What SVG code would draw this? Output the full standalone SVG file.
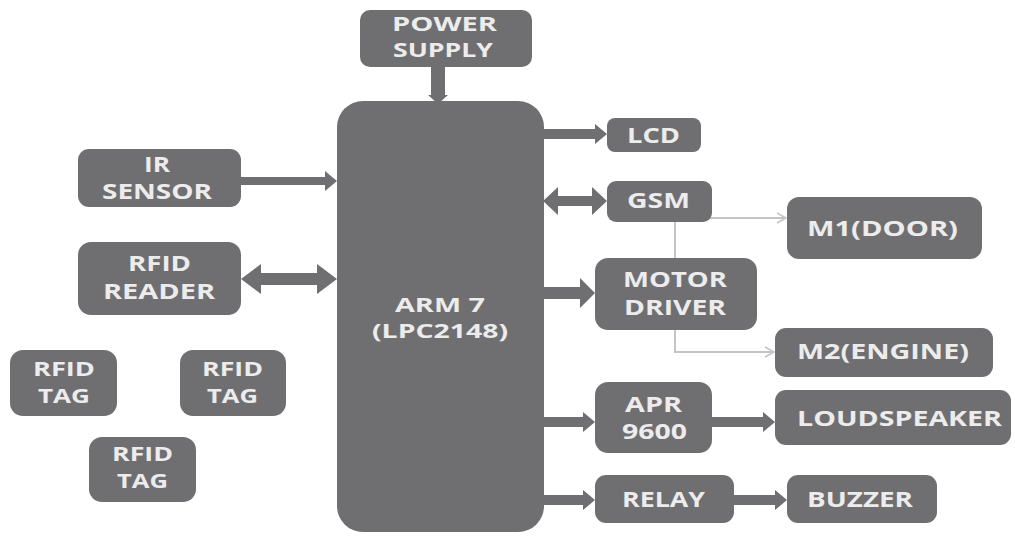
<svg xmlns="http://www.w3.org/2000/svg" width="1015" height="536" viewBox="0 0 1015 536">
<defs>
<style>
.box{fill:#6f6f72}
.arr{fill:#6f6f72}
.thin{fill:none;stroke:#c4c4c4;stroke-width:2}
.t{font-family:"Open Sans","Liberation Sans",sans-serif;font-weight:bold;fill:#ececec;font-size:21px}
.s{font-size:19px}
.c{font-size:19px}
</style>
<marker id="open" markerWidth="12" markerHeight="12" refX="10" refY="6" orient="auto" markerUnits="userSpaceOnUse">
<path d="M1,1 L10,6 L1,11" fill="none" stroke="#c4c4c4" stroke-width="1.5"/>
</marker>
</defs>
<rect width="1015" height="536" fill="#ffffff"/>
<g id="connectors">
<polygon class="arr" points="431,67 445,67 445,95 448,95 438,104 428,95 431,95"/>
<polygon class="arr" points="543,129 595,129 595,124 607,134 595,144 595,139 543,139"/>
<polygon class="arr" points="543,201 558,187 558,196 592,196 592,187 607,201 592,215 592,206 558,206 558,215"/>
<polygon class="arr" points="543,287 580,287 580,278 595,293 580,308 580,299 543,299"/>
<polygon class="arr" points="543,417 583,417 583,412 595,422 583,432 583,427 543,427"/>
<polygon class="arr" points="712,417 763,417 763,412 775,422 763,432 763,427 712,427"/>
<polygon class="arr" points="543,495 583,495 583,490 595,500 583,510 583,505 543,505"/>
<polygon class="arr" points="734,495 775,495 775,490 787,500 775,510 775,505 734,505"/>
<polygon class="arr" points="241,177 325,177 325,171 337,181 325,191 325,185 241,185"/>
<polygon class="arr" points="241,279 261,264 261,273 317,273 317,264 337,279 317,294 317,285 261,285 261,294"/>
<polyline class="thin" points="675,258 675,218 786,218" marker-end="url(#open)"/>
<polyline class="thin" points="675,330 675,352 774,352" marker-end="url(#open)"/>
</g>
<g id="power">
<rect class="box" x="360" y="10" width="172" height="57" rx="10"/>
<text class="t c" x="392" y="31" textLength="105" lengthAdjust="spacingAndGlyphs">POWER</text>
<text class="t c" x="393" y="57" textLength="100" lengthAdjust="spacingAndGlyphs">SUPPLY</text>
</g>
<g id="arm">
<rect class="box" x="337" y="101" width="207" height="431" rx="26"/>
<text class="t c" x="395" y="312" textLength="90" lengthAdjust="spacingAndGlyphs">ARM 7</text>
<text class="t c" x="372" y="338" textLength="136" lengthAdjust="spacingAndGlyphs">(LPC2148)</text>
</g>
<g id="lcd">
<rect class="box" x="607" y="118" width="94" height="34" rx="8"/>
<text class="t" x="627" y="143" textLength="53" lengthAdjust="spacingAndGlyphs">LCD</text>
</g>
<g id="gsm">
<rect class="box" x="607" y="181" width="105" height="41" rx="9"/>
<text class="t" x="627" y="208" textLength="63" lengthAdjust="spacingAndGlyphs">GSM</text>
</g>
<g id="m1">
<rect class="box" x="787" y="197" width="195" height="62" rx="12"/>
<text class="t" x="807" y="236" textLength="151" lengthAdjust="spacingAndGlyphs">M1(DOOR)</text>
</g>
<g id="motor">
<rect class="box" x="595" y="258" width="162" height="72" rx="13"/>
<text class="t" x="623" y="287" textLength="104" lengthAdjust="spacingAndGlyphs">MOTOR</text>
<text class="t" x="624" y="315" textLength="102" lengthAdjust="spacingAndGlyphs">DRIVER</text>
</g>
<g id="m2">
<rect class="box" x="775" y="328" width="218" height="49" rx="11"/>
<text class="t" x="797" y="359" textLength="172" lengthAdjust="spacingAndGlyphs">M2(ENGINE)</text>
</g>
<g id="apr">
<rect class="box" x="595" y="382" width="117" height="71" rx="13"/>
<text class="t" x="625" y="412" textLength="57" lengthAdjust="spacingAndGlyphs">APR</text>
<text class="t" x="622" y="439" textLength="65" lengthAdjust="spacingAndGlyphs">9600</text>
</g>
<g id="loudspeaker">
<rect class="box" x="775" y="390" width="236" height="55" rx="11"/>
<text class="t" x="797" y="426" textLength="205" lengthAdjust="spacingAndGlyphs">LOUDSPEAKER</text>
</g>
<g id="relay">
<rect class="box" x="595" y="475" width="139" height="48" rx="11"/>
<text class="t" x="622" y="507" textLength="83" lengthAdjust="spacingAndGlyphs">RELAY</text>
</g>
<g id="buzzer">
<rect class="box" x="787" y="475" width="150" height="48" rx="11"/>
<text class="t" x="807" y="507" textLength="106" lengthAdjust="spacingAndGlyphs">BUZZER</text>
</g>
<g id="ir">
<rect class="box" x="78" y="149" width="163" height="58" rx="11"/>
<text class="t" x="144" y="172" textLength="26" lengthAdjust="spacingAndGlyphs">IR</text>
<text class="t" x="102" y="199" textLength="110" lengthAdjust="spacingAndGlyphs">SENSOR</text>
</g>
<g id="reader">
<rect class="box" x="78" y="242" width="163" height="73" rx="13"/>
<text class="t" x="128" y="271" textLength="63" lengthAdjust="spacingAndGlyphs">RFID</text>
<text class="t" x="103" y="299" textLength="112" lengthAdjust="spacingAndGlyphs">READER</text>
</g>
<g id="tag1">
<rect class="box" x="10" y="350" width="107" height="66" rx="13"/>
<text class="t s" x="33" y="376" textLength="62" lengthAdjust="spacingAndGlyphs">RFID</text>
<text class="t s" x="38" y="403" textLength="52" lengthAdjust="spacingAndGlyphs">TAG</text>
</g>
<g id="tag2">
<rect class="box" x="180" y="350" width="106" height="66" rx="13"/>
<text class="t s" x="202" y="376" textLength="61" lengthAdjust="spacingAndGlyphs">RFID</text>
<text class="t s" x="207" y="403" textLength="51" lengthAdjust="spacingAndGlyphs">TAG</text>
</g>
<g id="tag3">
<rect class="box" x="89" y="437" width="107" height="65" rx="13"/>
<text class="t s" x="112" y="461" textLength="61" lengthAdjust="spacingAndGlyphs">RFID</text>
<text class="t s" x="117" y="488" textLength="51" lengthAdjust="spacingAndGlyphs">TAG</text>
</g>
</svg>
